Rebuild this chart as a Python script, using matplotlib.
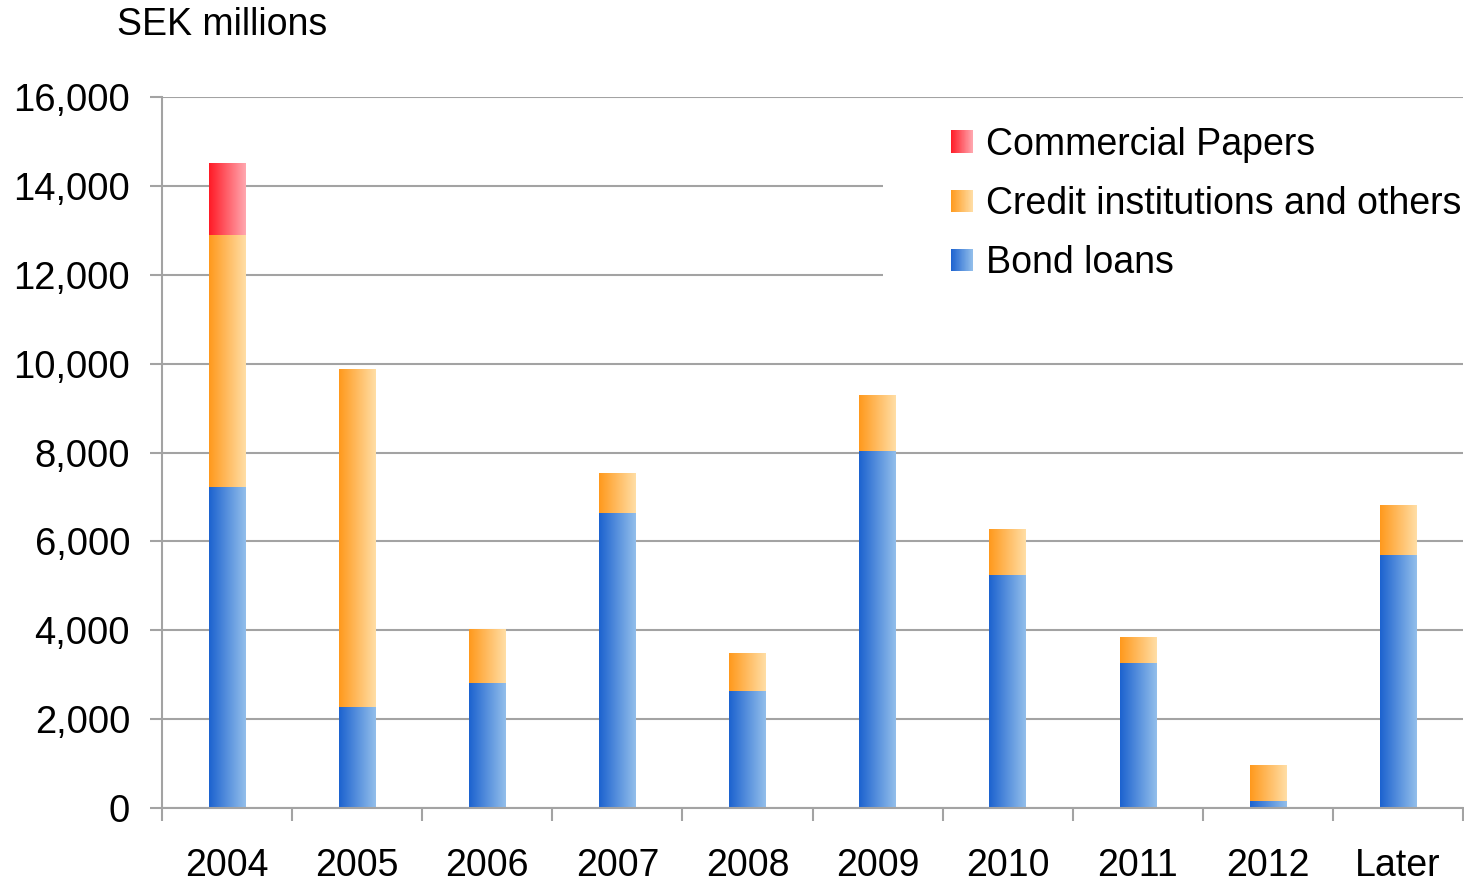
import numpy as np
import matplotlib.pyplot as plt
from matplotlib.colors import LinearSegmentedColormap
from matplotlib.legend_handler import HandlerBase
from matplotlib.patches import Rectangle
from matplotlib.ticker import FuncFormatter, MultipleLocator

plt.rcParams['font.family'] = ['Liberation Sans', 'DejaVu Sans']

years = ['2004', '2005', '2006', '2007', '2008', '2009', '2010', '2011', '2012', 'Later']
bond_loans = [7220, 2270, 2810, 6640, 2630, 8030, 5240, 3260, 160, 5690]
credit_inst = [5670, 7590, 1200, 880, 840, 1240, 1020, 570, 790, 1110]
commercial_papers = [1600, 0, 0, 0, 0, 0, 0, 0, 0, 0]

# left (dark) to right (light) shade of each series
shades = {
    'Bond loans': ('#1c62cf', '#93bfeb'),
    'Credit institutions and others': ('#ff991c', '#ffdea6'),
    'Commercial Papers': ('#ff1a26', '#ffa8b0'),
}

fig = plt.figure(figsize=(14.64, 8.83), dpi=100)
ax = fig.add_axes([0.1107, 0.0849, 0.8886, 0.8052])

x = np.arange(len(years))
width = 0.28
grad = np.linspace(0, 1, 256).reshape(1, -1)

bottom = np.zeros(len(years))
for name, vals in [('Bond loans', bond_loans),
                   ('Credit institutions and others', credit_inst),
                   ('Commercial Papers', commercial_papers)]:
    bars = ax.bar(x, vals, width, bottom=bottom, facecolor='none',
                  edgecolor='none', zorder=2)
    cmap = LinearSegmentedColormap.from_list(name, shades[name])
    for r in bars.patches:
        if r.get_height() <= 0:
            continue
        x0, y0 = r.get_x(), r.get_y()
        ax.imshow(grad, cmap=cmap, aspect='auto', interpolation='bilinear',
                  extent=[x0, x0 + r.get_width(), y0, y0 + r.get_height()],
                  zorder=2)
    bottom += np.array(vals)

ax.set_xlim(-0.5, len(years) - 0.5)
ax.set_ylim(0, 16000)

# grid and axes styling
ax.yaxis.set_major_locator(MultipleLocator(2000))
ax.yaxis.set_major_formatter(FuncFormatter(lambda v, p: f'{int(v):,}'))
ax.grid(axis='y', color='#a3a3a3', linewidth=1.5, zorder=0.5)
ax.set_axisbelow(True)
for s in ['top', 'right']:
    ax.spines[s].set_visible(False)
for s in ['left', 'bottom']:
    ax.spines[s].set_color('#a3a3a3')
    ax.spines[s].set_linewidth(1.5)

ax.set_xticks(x)
ax.set_xticklabels(years)
ax.set_xticks(np.arange(-0.5, len(years)), minor=True)
ax.tick_params(axis='x', which='major', length=0, pad=29, labelsize=27)
ax.tick_params(axis='x', which='minor', length=9, width=1.5, color='#a3a3a3')
ax.tick_params(axis='y', length=9, width=1.5, color='#a3a3a3', pad=14, labelsize=27.5)

fig.text(0.080, 0.972, 'SEK millions', fontsize=27, va='center', ha='left')

# white box behind the legend
ax.add_patch(Rectangle((0.554, 0.69), 0.45, 0.30, transform=ax.transAxes,
                       facecolor='white', edgecolor='none', zorder=1))


class GradientHandler(HandlerBase):
    def __init__(self, c0, c1, n=40):
        super().__init__()
        self.c0, self.c1, self.n = c0, c1, n

    def create_artists(self, legend, orig_handle, xdescent, ydescent,
                       width, height, fontsize, trans):
        cmap = LinearSegmentedColormap.from_list('h', [self.c0, self.c1])
        side = min(width, height)
        step = side / self.n
        arts = []
        for i in range(self.n):
            arts.append(Rectangle((-xdescent + i * step, -ydescent + (height - side) / 2),
                                  step * 1.05, side, facecolor=cmap(i / (self.n - 1)),
                                  edgecolor='none', transform=trans))
        return arts


labels = ['Commercial Papers', 'Credit institutions and others', 'Bond loans']
handles = [Rectangle((0, 0), 1, 1) for _ in labels]
hmap = {h: GradientHandler(*shades[l]) for h, l in zip(handles, labels)}
ax.legend(handles, labels, handler_map=hmap, frameon=False, fontsize=27,
          loc='upper left', bbox_to_anchor=(0.586, 0.995),
          handlelength=0.6, handleheight=0.6, handletextpad=0.35,
          labelspacing=0.62, borderaxespad=0.3)

fig.savefig('out.png', dpi=100)
